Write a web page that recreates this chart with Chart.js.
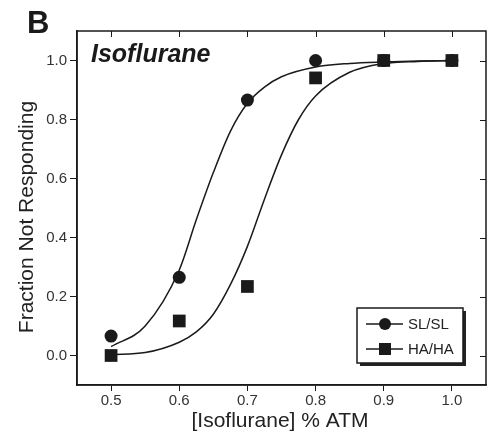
<!DOCTYPE html>
<html>
<head>
<meta charset="utf-8">
<script src="https://cdn.jsdelivr.net/npm/chart.js@4"></script>
<style>
  html, body { margin: 0; padding: 0; background: #fff; }
  #wrap { width: 495px; height: 435px; }
</style>
</head>
<body>
<div id="wrap"><canvas id="c" width="495" height="435"></canvas></div>
<script>
// ---- data ----
const xTicks = [0.5, 0.6, 0.7, 0.8, 0.9, 1.0];
const yTicks = [0.0, 0.2, 0.4, 0.6, 0.8, 1.0];
const doses = [0.5, 0.6, 0.7, 0.8, 0.9, 1.0];
const slslValues = [0.066, 0.265, 0.866, 1.0, 1.0, 1.0];
const hahaValues = [0.0, 0.117, 0.234, 0.941, 1.0, 1.0];
// fitted curves
const slslFitX = [0.50, 0.55, 0.60, 0.625, 0.65, 0.675, 0.70, 0.725, 0.75, 0.80, 0.85, 0.90, 0.95, 1.00];
const slslFitY = [0.03, 0.10, 0.29, 0.46, 0.62, 0.76, 0.855, 0.91, 0.945, 0.978, 0.99, 0.995, 0.998, 1.0];
const hahaFitX = [0.50, 0.55, 0.60, 0.625, 0.65, 0.675, 0.70, 0.725, 0.75, 0.775, 0.80, 0.85, 0.90, 0.95, 1.00];
const hahaFitY = [0.003, 0.01, 0.045, 0.08, 0.14, 0.24, 0.37, 0.53, 0.68, 0.80, 0.88, 0.96, 0.99, 0.997, 1.0];
const seriesNames = ['SL/SL', 'HA/HA'];
const panelLetter = 'B';
const panelTitle = 'Isoflurane';
const xTitle = '[Isoflurane] % ATM';
const yTitle = 'Fraction Not Responding';

const INK = '#1a1a1a';
const FONT = '"Liberation Sans", Arial, Helvetica, sans-serif';

const pts = (xs, ys) => xs.map((x, i) => ({ x: x, y: ys[i] }));

const decor = {
  id: 'decor',
  afterDraw(chart) {
    const ctx = chart.ctx;
    const a = chart.chartArea;
    const xs = chart.scales.x, ys = chart.scales.y;
    ctx.save();
    // frame
    ctx.strokeStyle = INK;
    ctx.lineWidth = 1.5;
    ctx.strokeRect(a.left, a.top, a.right - a.left, a.bottom - a.top);
    // inward ticks on top and right
    ctx.lineWidth = 1;
    ctx.beginPath();
    xTicks.forEach(v => {
      const px = Math.round(xs.getPixelForValue(v)) + 0.5;
      ctx.moveTo(px, a.top); ctx.lineTo(px, a.top + 6);
    });
    yTicks.forEach(v => {
      const py = Math.round(ys.getPixelForValue(v)) + 0.5;
      ctx.moveTo(a.right, py); ctx.lineTo(a.right - 6, py);
    });
    ctx.stroke();

    // texts
    ctx.fillStyle = INK;
    ctx.textAlign = 'left';
    ctx.textBaseline = 'alphabetic';
    ctx.font = 'bold 31px ' + FONT;
    ctx.fillText(panelLetter, 27, 33);
    ctx.font = 'italic bold 25px ' + FONT;
    ctx.fillText(panelTitle, 91, 62);

    ctx.fillStyle = '#222';
    ctx.font = '21px ' + FONT;
    ctx.textAlign = 'center';
    ctx.textBaseline = 'middle';
    ctx.fillText(xTitle, 280, 421);
    ctx.save();
    ctx.translate(27, 217);
    ctx.rotate(-Math.PI / 2);
    ctx.fillText(yTitle, 0, 0);
    ctx.restore();

    // legend
    const lx = 357, ly = 308, lw = 106, lh = 55;
    ctx.fillStyle = '#222';
    ctx.fillRect(lx + 3, ly + 3, lw, lh);
    ctx.fillStyle = '#fff';
    ctx.fillRect(lx, ly, lw, lh);
    ctx.strokeStyle = INK;
    ctx.lineWidth = 1.5;
    ctx.strokeRect(lx, ly, lw, lh);
    const rows = [324, 349];
    ctx.lineWidth = 1.5;
    rows.forEach((ry, i) => {
      ctx.beginPath();
      ctx.moveTo(366, ry); ctx.lineTo(403, ry);
      ctx.stroke();
      ctx.fillStyle = INK;
      if (i === 0) {
        ctx.beginPath();
        ctx.arc(385, ry, 6, 0, Math.PI * 2);
        ctx.fill();
      } else {
        ctx.fillRect(379, ry - 6, 12, 12);
      }
      ctx.fillStyle = '#222';
      ctx.font = '15px ' + FONT;
      ctx.textAlign = 'left';
      ctx.textBaseline = 'middle';
      ctx.fillText(seriesNames[i], 408, ry + 1);
    });
    ctx.restore();
  }
};

new Chart(document.getElementById('c'), {
  type: 'scatter',
  data: {
    datasets: [
      {
        label: seriesNames[0] + ' fit',
        data: pts(slslFitX, slslFitY),
        showLine: true, pointRadius: 0, borderColor: INK, borderWidth: 1.5,
        cubicInterpolationMode: 'monotone', order: 2
      },
      {
        label: seriesNames[1] + ' fit',
        data: pts(hahaFitX, hahaFitY),
        showLine: true, pointRadius: 0, borderColor: INK, borderWidth: 1.5,
        cubicInterpolationMode: 'monotone', order: 2
      },
      {
        label: seriesNames[0],
        data: pts(doses, slslValues),
        showLine: false, pointStyle: 'circle', pointRadius: 6.5,
        backgroundColor: INK, borderColor: INK, borderWidth: 0, order: 0
      },
      {
        label: seriesNames[1],
        data: pts(doses, hahaValues),
        showLine: false, pointStyle: 'rect', pointRadius: 9,
        backgroundColor: INK, borderColor: INK, borderWidth: 0, order: 0
      }
    ]
  },
  options: {
    responsive: false,
    animation: false,
    clip: false,
    layout: { padding: { top: 31, right: 2, left: 0, bottom: 0 } },
    plugins: { legend: { display: false }, tooltip: { enabled: false }, title: { display: false } },
    scales: {
      x: {
        type: 'linear', min: 0.45, max: 1.05,
        afterFit(s) { s.height = 50; },
        afterBuildTicks(s) { s.ticks = xTicks.map(v => ({ value: v })); },
        ticks: {
          callback: v => v.toFixed(1), color: '#333', padding: 1,
          font: { family: FONT, size: 15 }, maxRotation: 0, autoSkip: false
        },
        grid: { display: true, drawOnChartArea: false, drawTicks: true, tickLength: 6, color: INK, lineWidth: 1 },
        border: { display: true, color: INK, width: 1.5 }
      },
      y: {
        type: 'linear', min: -0.1, max: 1.1,
        afterFit(s) { s.width = 77; },
        afterBuildTicks(s) { s.ticks = yTicks.map(v => ({ value: v })); },
        ticks: {
          callback: v => v.toFixed(1), color: '#333', padding: 3,
          font: { family: FONT, size: 15 }, autoSkip: false
        },
        grid: { display: true, drawOnChartArea: false, drawTicks: true, tickLength: 7, color: INK, lineWidth: 1 },
        border: { display: true, color: INK, width: 1.5 }
      }
    }
  },
  plugins: [decor]
});
</script>
</body>
</html>
